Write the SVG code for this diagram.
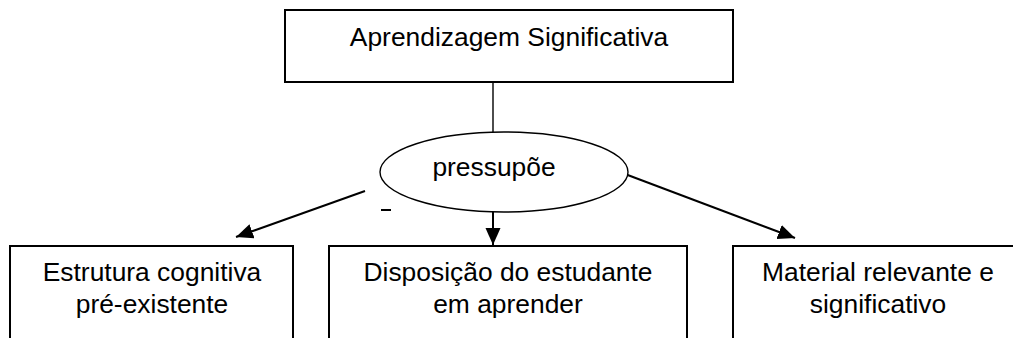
<svg xmlns="http://www.w3.org/2000/svg" width="1013" height="338" viewBox="0 0 1013 338">
  <style>
    .box { fill: #fff; stroke: #000; stroke-width: 2; }
    .oval { fill: #fff; stroke: #000; stroke-width: 1.4; }
    .lbl { font-family: "Liberation Sans", Arial, sans-serif; font-size: 26.4px; fill: #000; text-anchor: middle; }
    .conn { stroke: #000; stroke-width: 2; fill: none; }
    .thin { stroke: #000; stroke-width: 1.4; fill: none; }
  </style>
  <defs>
    <marker id="arrow" markerUnits="userSpaceOnUse" markerWidth="18" markerHeight="16" refX="17" refY="7.5" orient="auto">
      <path d="M0,0 L17,7.5 L0,15 z" fill="#000"/>
    </marker>
  </defs>
  <rect width="1013" height="338" fill="#fff"/>
  <g id="connectors">
    <line class="thin" x1="493" y1="82" x2="493" y2="133"/>
    <line class="conn" x1="365" y1="191" x2="236" y2="237" marker-end="url(#arrow)"/>
    <line class="conn" x1="493" y1="211" x2="493" y2="245" marker-end="url(#arrow)"/>
    <line class="conn" x1="625" y1="174" x2="795" y2="238" marker-end="url(#arrow)"/>
  </g>
  <g id="node-top">
    <rect class="box" x="285" y="10" width="448" height="72"/>
    <text class="lbl" x="509" y="46">Aprendizagem Significativa</text>
  </g>
  <g id="node-pressupoe">
    <ellipse class="oval" cx="504" cy="172" rx="124" ry="40"/>
    <text class="lbl" x="494" y="176">pressupõe</text>
  </g>
  <line x1="381" y1="210" x2="391" y2="210" stroke="#000" stroke-width="2"/>
  <g id="node-estrutura">
    <rect class="box" x="10" y="246" width="283" height="110"/>
    <text class="lbl" x="152" y="280.5">Estrutura cognitiva</text>
    <text class="lbl" x="152" y="313">pré-existente</text>
  </g>
  <g id="node-disposicao">
    <rect class="box" x="329" y="246" width="358" height="110"/>
    <text class="lbl" x="508" y="280.5">Disposição do estudante</text>
    <text class="lbl" x="508" y="313">em aprender</text>
  </g>
  <g id="node-material">
    <rect class="box" x="733" y="246" width="290" height="110"/>
    <text class="lbl" x="878" y="280.5">Material relevante e</text>
    <text class="lbl" x="878" y="313">significativo</text>
  </g>
</svg>
